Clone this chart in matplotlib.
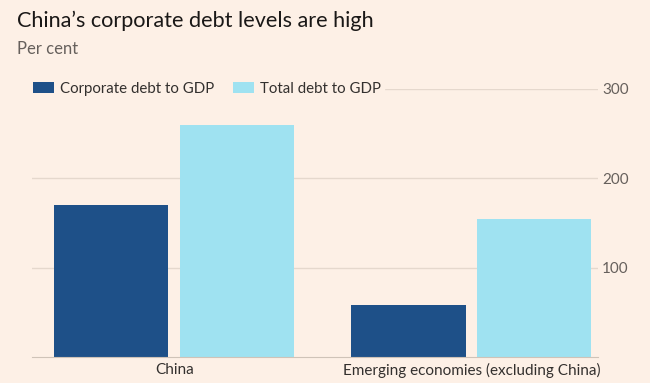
import matplotlib.pyplot as plt
import numpy as np

# data
categories = ["China", "Emerging economies (excluding China)"]
corporate = [170, 58]
total = [260, 154]
yticks = [100, 200, 300]

BG = "#fdf0e6"
DARK = "#1e5088"
LIGHT = "#9fe2f1"
GRID = "#e5d8cd"
TEXT = "#33302e"
MUTED = "#66605c"

plt.rcParams['font.family'] = ['Lato', 'DejaVu Sans']

fig = plt.figure(figsize=(6.5, 3.83), dpi=100, facecolor=BG)
ax = fig.add_axes([0.049, 0.068, 0.871, 0.70])
ax.set_facecolor(BG)

x = np.arange(len(categories))
w = 0.384
off = 0.212
ax.bar(x - off, corporate, width=w, color=DARK, label="Corporate debt to GDP", zorder=3)
ax.bar(x + off, total, width=w, color=LIGHT, label="Total debt to GDP", zorder=3)

ax.set_xlim(-0.48, 1.426)
ax.set_ylim(0, 300)
ax.set_xticks(x)
ax.set_xticklabels(categories, fontsize=11, color=TEXT)
ax.yaxis.tick_right()
ax.set_yticks(yticks)
ax.set_yticklabels([str(v) for v in yticks], fontsize=11, color=MUTED)
ax.tick_params(axis='y', length=0, pad=3)
ax.tick_params(axis='x', length=0, pad=4)
ax.grid(axis='y', color=GRID, linewidth=1, zorder=0)
for s in ['top', 'left', 'right']:
    ax.spines[s].set_visible(False)
ax.spines['bottom'].set_color("#cfc3b8")
ax.spines['bottom'].set_zorder(4)

leg = ax.legend(loc='center left', bbox_to_anchor=(-0.004, 1.0), ncol=2,
                frameon=True, facecolor=BG, edgecolor=BG, framealpha=1,
                fontsize=10.8, handlelength=1.4, handleheight=0.8,
                handletextpad=0.4, columnspacing=1.3, borderpad=0.2,
                borderaxespad=0.0)
for t in leg.get_texts():
    t.set_color(TEXT)

fig.text(0.026, 0.93, "China\u2019s corporate debt levels are high",
         fontsize=15.6, color="#1a1817", va='baseline')
fig.text(0.026, 0.86, "Per cent", fontsize=12, color=MUTED, va='baseline')

fig.savefig("out.png", dpi=100, facecolor=BG)
